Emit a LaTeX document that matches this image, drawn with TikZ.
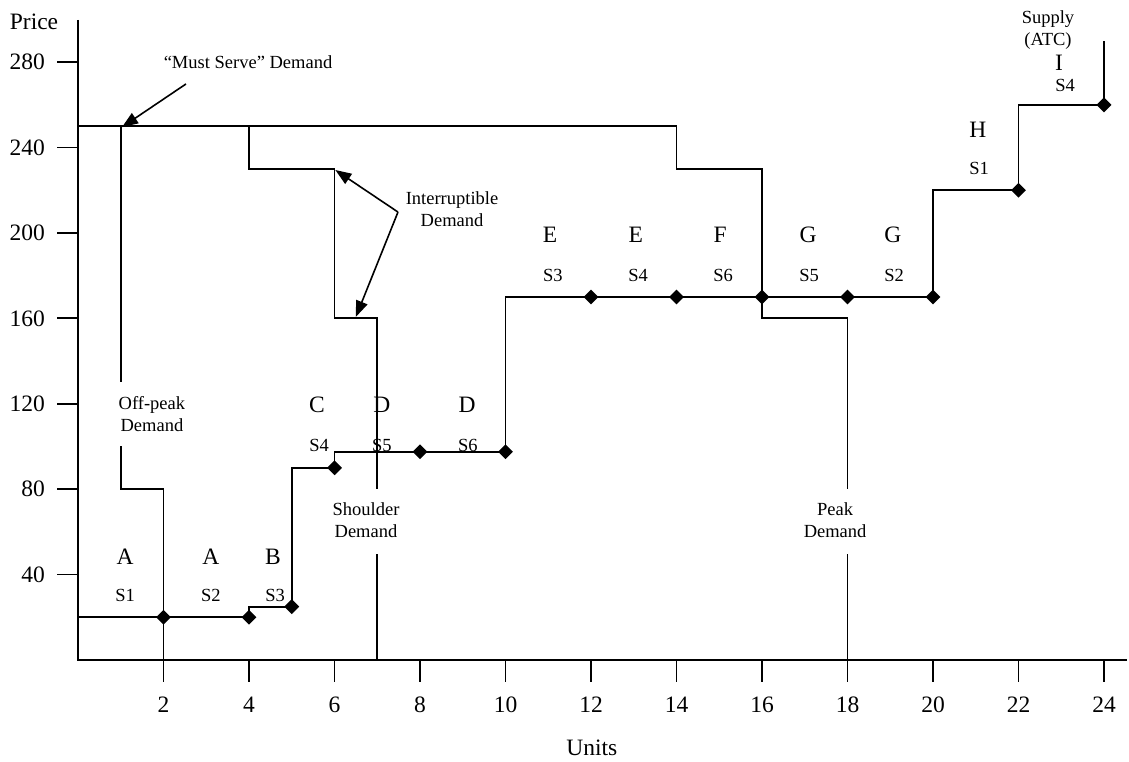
\documentclass[tikz,border=0pt]{standalone}
\usepackage{fontspec}
\setmainfont{Liberation Serif}
\usetikzlibrary{arrows.meta,shapes.geometric}
\begin{document}
\begin{tikzpicture}[x=42.75pt,y=2.135pt,
  curve/.style={line width=1.8pt,line join=miter},
  tick/.style={line width=1.8pt},
  pt/.style={diamond,fill=black,draw=none,inner sep=0pt,minimum width=15pt,minimum height=15pt},
  big/.style={inner sep=0pt,font=\fontsize{23.5}{27}\selectfont},
  small/.style={inner sep=0pt,font=\fontsize{18.5}{22}\selectfont},
  note/.style={inner sep=0pt,align=center,font=\fontsize{18.5}{22}\selectfont},
  callout/.style={line width=1.6pt,-{Triangle[length=16pt,width=12pt]}},
]
\useasboundingbox (-1.8246,-47.775) rectangle (24.585,309.13);
\fill[white] (-1.8246,-47.775) rectangle (24.585,309.13);

% axes
\coordinate (O) at (0,0);
\coordinate (ytop) at (0,299.8);
\coordinate (xend) at (24.54,0);
\draw[curve] (ytop) -- (O) -- (xend);
\foreach \v in {40,80,...,280}{
  \draw[tick] (0,\v) -- (-0.491,\v);
  \node[big,anchor=east] (yl\v) at (-0.772,\v) {\v};
}
\foreach \u in {2,4,...,24}{
  \draw[tick] (\u,0) -- (\u,-10.3);
  \node[big] (xl\u) at (\u,-21.08) {\u};
}
\node[big] (price) at (-1.029,298.8) {Price};
\node[big] (units) at (12.02,-41.2) {Units};

% demand curves
\coordinate (mA) at (0,250);
\coordinate (mB) at (14,250);
\coordinate (mC) at (16,230);
\coordinate (mD) at (18,160);
\coordinate (mE) at (18,80.1);
\coordinate (mF) at (18,49.6);
\coordinate (mG) at (18,0);
\draw[curve] (mA) -- (mB) |- (mC) |- (mD) -- (mE);
\draw[curve] (mF) -- (mG);

\coordinate (sA) at (4,250);
\coordinate (sB) at (6,230);
\coordinate (sC) at (7,160);
\coordinate (sD) at (7,80.1);
\coordinate (sE) at (7,49.6);
\coordinate (sF) at (7,0);
\draw[curve] (sA) |- (sB) |- (sC) -- (sD);
\draw[curve] (sE) -- (sF);

\coordinate (oA) at (1,250);
\coordinate (oB) at (1,130.2);
\coordinate (oC) at (1,100);
\coordinate (oD) at (2,80);
\coordinate (oE) at (2,0);
\draw[curve] (oA) -- (oB);
\draw[curve] (oC) |- (oD) -- (oE);

% supply curve
\coordinate (s0) at (0,20);
\node[pt] (p1) at (2,20) {};
\node[pt] (p2) at (4,20) {};
\node[pt] (p3) at (5,25) {};
\node[pt] (p4) at (6,90) {};
\node[pt] (p5) at (8,97.5) {};
\node[pt] (p6) at (10,97.5) {};
\node[pt] (p7) at (12,170) {};
\node[pt] (p8) at (14,170) {};
\node[pt] (p9) at (16,170) {};
\node[pt] (p10) at (18,170) {};
\node[pt] (p11) at (20,170) {};
\node[pt] (p12) at (22,220) {};
\node[pt] (p13) at (24,260) {};
\coordinate (stop) at (24,290);
\draw[curve] (s0) -- (p1.center) -- (p2.center) |- (p3.center) |- (p4.center) |- (p5.center)
  -- (p6.center) |- (p7.center) -- (p8.center) -- (p9.center) -- (p10.center) -- (p11.center)
  |- (p12.center) |- (p13.center) -- (stop);

% annotations
\node[note] (must) at (3.977,280.1) {“Must Serve” Demand};
\coordinate (mustfrom) at (2.526,269.8);
\coordinate (musttip) at (1.03,249.6);
\draw[callout] (mustfrom) -- (musttip);

\node[note] (intr) at (8.749,211.0) {Interruptible\\Demand};
\coordinate (ifrom) at (7.485,209.8);
\coordinate (itip1) at (6.02,229.5);
\coordinate (itip2) at (6.50,160.7);
\draw[callout] (ifrom) -- (itip1);
\draw[callout] (ifrom) -- (itip2);

\node[note] (offpeak) at (1.73,115.2) {Off-peak\\Demand};
\node[note] (shoulder) at (6.737,65.6) {Shoulder\\Demand};
\node[note] (peak) at (17.71,65.6) {Peak\\Demand};
\node[note] (supply) at (22.69,295.1) {Supply\\(ATC)};

% step labels
\node[big] (LA1) at (1.10,48.2) {A};   \node[small] (SA1) at (1.10,30.0) {S1};
\node[big] (LA2) at (3.11,48.2) {A};   \node[small] (SA2) at (3.11,30.0) {S2};
\node[big] (LB) at (4.56,48.2) {B};    \node[small] (SB) at (4.61,30.0) {S3};
\node[big] (LC) at (5.59,119.4) {C};   \node[small] (SC) at (5.64,100.7) {S4};
\node[big] (LD1) at (7.11,119.4) {D};  \node[small] (SD1) at (7.11,100.7) {S5};
\node[big] (LD2) at (9.10,119.4) {D};  \node[small] (SD2) at (9.12,100.7) {S6};
\node[big] (LE1) at (11.04,199.1) {E}; \node[small] (SE1) at (11.11,180.3) {S3};
\node[big] (LE2) at (13.05,199.1) {E}; \node[small] (SE2) at (13.10,180.3) {S4};
\node[big] (LF) at (15.02,199.1) {F};  \node[small] (SF) at (15.09,180.3) {S6};
\node[big] (LG1) at (17.08,199.1) {G}; \node[small] (SG1) at (17.10,180.3) {S5};
\node[big] (LG2) at (19.06,199.1) {G}; \node[small] (SG2) at (19.09,180.3) {S2};
\node[big] (LH) at (21.05,248.2) {H};  \node[small] (SH) at (21.08,230.0) {S1};
\node[big] (LI) at (22.95,279.6) {I};  \node[small] (SI) at (23.09,269.2) {S4};
\end{tikzpicture}
\end{document}
